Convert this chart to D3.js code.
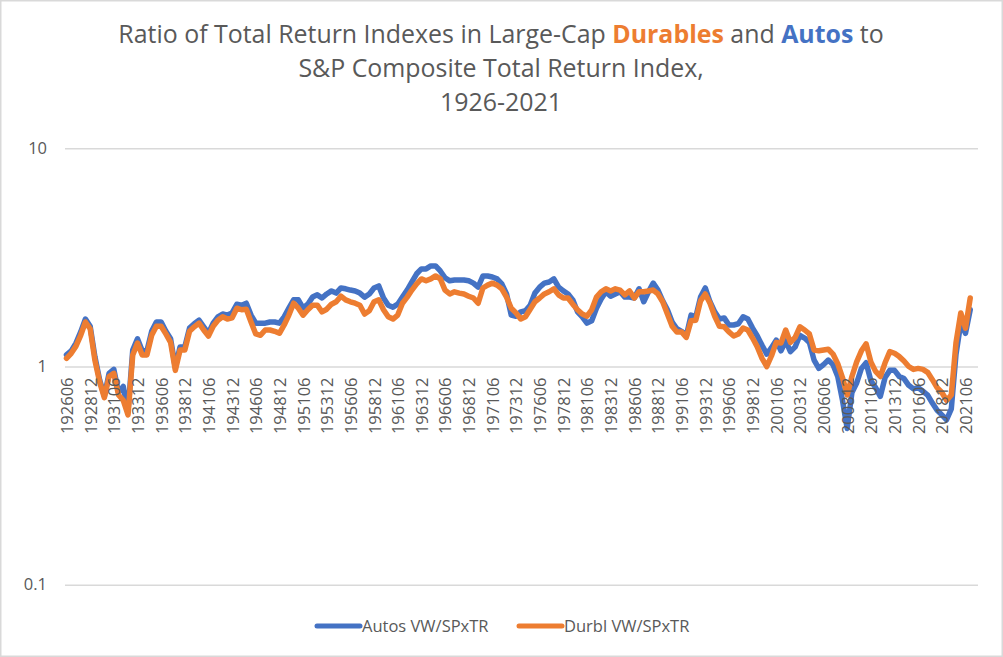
<!DOCTYPE html>
<html><head><meta charset="utf-8">
<script src="https://cdn.jsdelivr.net/npm/d3@7"></script>
<style>body{margin:0;background:#fff}svg{display:block}</style>
</head><body>
<svg id="chart" width="1003" height="657"></svg>
<script>
// ---- data (semi-annual readings, Jun 1926 .. Dec 2021) ----
const firstYear = 1926, firstMonth = 6, stepMonths = 6;
const autos = [
1.13,1.18,1.28,1.44,1.65,1.53,1.11,0.87,0.73,0.93,
0.97,0.76,0.81,0.62,1.19,1.34,1.18,1.18,1.45,1.60,
1.60,1.45,1.34,0.99,1.23,1.23,1.50,1.57,1.63,1.52,
1.42,1.58,1.69,1.74,1.72,1.76,1.93,1.91,1.95,1.72,
1.58,1.58,1.58,1.60,1.60,1.58,1.69,1.85,2.02,2.02,
1.85,1.93,2.08,2.13,2.06,2.15,2.22,2.17,2.29,2.27,
2.24,2.22,2.17,2.08,2.15,2.29,2.34,2.06,1.91,1.87,
1.93,2.08,2.24,2.44,2.66,2.80,2.80,2.89,2.89,2.74,
2.55,2.47,2.49,2.49,2.49,2.47,2.41,2.31,2.60,2.60,
2.57,2.52,2.39,2.15,1.72,1.70,1.78,1.80,1.91,2.17,
2.31,2.41,2.44,2.52,2.31,2.22,2.15,2.02,1.78,1.69,
1.58,1.62,1.85,2.04,2.20,2.10,2.15,2.20,2.08,2.08,
2.06,2.27,1.98,2.20,2.41,2.24,2.00,1.82,1.60,1.49,
1.45,1.38,1.72,1.69,2.08,2.29,1.98,1.78,1.65,1.67,
1.55,1.55,1.57,1.69,1.65,1.50,1.38,1.25,1.14,1.22,
1.32,1.18,1.31,1.17,1.23,1.39,1.35,1.29,1.07,0.98,
1.02,1.07,1.02,0.90,0.70,0.52,0.76,0.84,0.98,1.04,
0.86,0.80,0.73,0.89,0.96,0.96,0.90,0.88,0.82,0.79,
0.80,0.77,0.74,0.68,0.63,0.60,0.57,0.64,1.14,1.58,
1.42,1.82];
const durbl = [
1.09,1.15,1.24,1.39,1.60,1.49,1.07,0.85,0.72,0.90,
0.93,0.74,0.70,0.60,1.13,1.28,1.13,1.13,1.39,1.53,
1.53,1.41,1.29,0.96,1.19,1.19,1.45,1.52,1.58,1.47,
1.38,1.53,1.63,1.69,1.65,1.67,1.85,1.82,1.83,1.60,
1.41,1.39,1.47,1.47,1.45,1.42,1.55,1.72,1.95,1.85,
1.72,1.82,1.91,1.91,1.78,1.83,1.93,1.98,2.10,2.02,
1.98,1.95,1.91,1.74,1.80,1.98,2.02,1.82,1.69,1.65,
1.72,1.95,2.08,2.24,2.39,2.52,2.47,2.52,2.60,2.52,
2.24,2.15,2.20,2.17,2.15,2.10,2.06,1.95,2.29,2.36,
2.41,2.36,2.27,2.08,1.85,1.76,1.65,1.69,1.83,1.98,
2.06,2.15,2.20,2.27,2.13,2.06,2.06,1.93,1.82,1.74,
1.70,1.82,2.08,2.20,2.27,2.22,2.27,2.24,2.13,2.22,
2.06,2.20,2.20,2.22,2.24,2.15,1.98,1.74,1.53,1.44,
1.44,1.36,1.62,1.63,2.00,2.15,1.95,1.70,1.53,1.52,
1.44,1.38,1.41,1.50,1.47,1.35,1.23,1.09,1.00,1.12,
1.29,1.28,1.47,1.29,1.36,1.52,1.47,1.41,1.19,1.18,
1.19,1.20,1.14,1.03,0.89,0.74,0.90,1.05,1.18,1.27,
1.05,0.95,0.90,1.04,1.17,1.15,1.11,1.06,1.00,0.97,
0.98,0.97,0.94,0.87,0.80,0.76,0.70,0.74,1.29,1.76,
1.50,2.06];
const tickLabels = ["192606","192812","193106","193312","193606","193812","194106","194312",
"194606","194812","195106","195312","195606","195812","196106","196312","196606","196812",
"197106","197312","197606","197812","198106","198312","198606","198812","199106","199312",
"199606","199812","200106","200312","200606","200812","201106","201312","201606","201812","202106"];
const yTicks = [0.1, 1, 10];
const seriesNames = ["Autos VW/SPxTR", "Durbl VW/SPxTR"];
const colors = ["#4472C4", "#ED7D31"];

// categories (YYYYMM) for each reading
const categories = autos.map((_, i) => {
  const t = (firstYear * 12 + firstMonth - 1) + i * stepMonths;
  return String(Math.floor(t / 12)) + String(t % 12 + 1).padStart(2, "0");
});
const monthIndex = s => (+s.slice(0, 4) - firstYear) * 12 + (+s.slice(4) - firstMonth);

// ---- layout ----
const svg = d3.select("#chart");
const font = "'Open Sans', sans-serif";
const textCol = "#595959", gridCol = "#D9D9D9";
const plotL = 65, plotR = 978;

svg.append("rect").attr("x", 0.75).attr("y", 0.75).attr("width", 1001.5).attr("height", 655.5)
  .attr("fill", "#fff").attr("stroke", "#D9D9D9").attr("stroke-width", 1.5);

const x = d3.scaleLinear().domain([0, monthIndex("202106")]).range([66.5, 965.5]);
const y = d3.scaleLog().domain([0.1, 10]).range([584.7, 148.3]);

// gridlines + y labels
const yAxis = d3.axisLeft(y).tickValues(yTicks).tickFormat(d => String(d))
  .tickSize(-(plotR - plotL)).tickPadding(18);
const yg = svg.append("g").attr("transform", `translate(${plotL},0)`).call(yAxis);
yg.select(".domain").remove();
yg.selectAll(".tick line").attr("stroke", gridCol).attr("stroke-width", 1.4);
yg.selectAll(".tick text").attr("fill", textCol).attr("font-family", font).attr("font-size", 16.5);

// lines
const line = d3.line().x((d, i) => x(monthIndex(categories[i]))).y(d => y(d)).curve(d3.curveLinear);
[autos, durbl].forEach((s, j) => {
  svg.append("path").datum(s).attr("d", line).attr("fill", "none")
    .attr("stroke", colors[j]).attr("stroke-width", 5.5)
    .attr("stroke-linejoin", "round").attr("stroke-linecap", "round");
});

// x labels (category axis sits at value 1)
const xAxis = d3.axisBottom(x).tickValues(tickLabels.map(monthIndex))
  .tickFormat((d, i) => tickLabels[i]).tickSize(0).tickPadding(0);
const xg = svg.append("g").attr("transform", `translate(0,${y(1)})`).call(xAxis);
xg.select(".domain").remove();
xg.selectAll(".tick text")
  .attr("fill", textCol).attr("font-family", font).attr("font-size", 16.5)
  .attr("text-anchor", "end").attr("transform", "translate(0,11) rotate(-90)")
  .attr("x", 0).attr("y", 0).attr("dy", "0.36em");

// title
const title = svg.append("g").attr("font-family", font).attr("fill", textCol).attr("text-anchor", "middle");
const t1 = title.append("text").attr("x", 501).attr("y", 43);
t1.append("tspan").text("Ratio of Total Return Indexes in Large-Cap ");
t1.append("tspan").text("Durables").attr("fill", colors[1]).attr("font-weight", "bold");
t1.append("tspan").text(" and ");
t1.append("tspan").text("Autos").attr("fill", colors[0]).attr("font-weight", "bold");
t1.append("tspan").text(" to");
const t2 = title.append("text").attr("x", 501).attr("y", 77).text("S&P Composite Total Return Index,");
const t3 = title.append("text").attr("x", 501).attr("y", 111).text("1926-2021");
title.selectAll("text").attr("font-size", 24);
const w1 = t1.node().getComputedTextLength();
const fs = 24 * 766 / w1;
title.selectAll("text").attr("font-size", fs);

// legend
const leg = svg.append("g").attr("font-family", font).attr("font-size", 16.5).attr("fill", textCol);
const legX = [317, 519];
seriesNames.forEach((n, j) => {
  leg.append("line").attr("x1", legX[j]).attr("x2", legX[j] + 43).attr("y1", 626).attr("y2", 626)
    .attr("stroke", colors[j]).attr("stroke-width", 5).attr("stroke-linecap", "round");
  leg.append("text").attr("x", legX[j] + 45).attr("y", 626).attr("dy", "0.35em").text(n);
});
</script>
</body></html>
